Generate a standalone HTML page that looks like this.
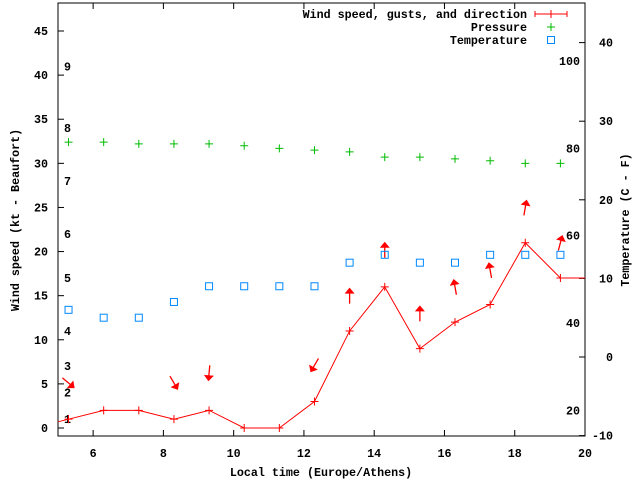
<!DOCTYPE html>
<html><head><meta charset="utf-8"><style>
html,body{margin:0;padding:0;background:#fff}
svg{display:block}
text{font-family:"Liberation Mono",monospace;font-weight:bold;font-size:11.7px;fill:#000}
</style></head><body>
<svg id="chart" width="640" height="480" viewBox="0 0 640 480" xmlns="http://www.w3.org/2000/svg"></svg>
<script>
const hours = [5.3,6.3,7.3,8.3,9.3,10.3,11.3,12.3,13.3,14.3,15.3,16.3,17.3,18.3,19.3];
const windSpeed = [1,2,2,1,2,0,0,3,11,16,9,12,14,21,17];
const gustArrowHours = [5.3,8.3,9.3,12.3,13.3,14.3,15.3,16.3,17.3,18.3,19.3];
const gustSpeed = [5.1,5.1,6.2,7.1,15,20.2,13,16,17.9,25,21];
const gustBearing = [130,150,185,210,0,0,0,350,350,10,15];
const pressure = [32.4,32.4,32.2,32.2,32.2,32.0,31.7,31.5,31.3,30.7,30.7,30.5,30.3,30.0,30.0];
const temperatureC = [6,5,5,7,9,9,9,9,12,13,12,12,13,13,13];
const xTicks = [6,8,10,12,14,16,18,20];
const yTicks = [0,5,10,15,20,25,30,35,40,45];
const y2Ticks = [-10,0,10,20,30,40];
const beaufortLabels = ["1","2","3","4","5","6","7","8","9"];
const beaufortValues = [1,4,7,11,17,22,28,34,41];
const fahrenheitLabels = [20,40,60,80,100];

const L=58,R=585,T=3,B=436;
const X=h=>L+(h-5)*(R-L)/15;
const Y=v=>428-v*8.822;
const Y2=c=>357-c*7.86;
const YF=f=>Y2((f-32)*5/9);
const svg=document.getElementById('chart');
const NS='http://www.w3.org/2000/svg';
function mk(tag,attrs,parent){const e=document.createElementNS(NS,tag);for(const k in attrs)e.setAttribute(k,attrs[k]);(parent||svg).appendChild(e);return e;}
function txt(s,x,y,anchor,parent){const t=mk('text',{x:x,y:y,'text-anchor':anchor||'start'},parent);t.textContent=s;return t;}

const frame=mk('rect',{x:L,y:T,width:R-L,height:B-T,fill:'none',stroke:'#000','stroke-width':1});



xTicks.forEach(h=>{
  const x=X(h);
  const tk=mk('path',{d:`M${x},${B}v-6M${x},${T}v6`,stroke:'#000'});
  
  
  const lb=txt(String(h),x,457,'middle');
  
  
});
yTicks.forEach(v=>{
  const y=Y(v);
  const tk=mk('path',{d:`M${L},${y}h6`,stroke:'#000'});
  
  
  const lb=txt(String(v),48,y+4,'end');
  
  
});
y2Ticks.forEach(c=>{
  const y=Y2(c);
  const tk=mk('path',{d:`M${R},${y}h-6`,stroke:'#000'});
  
  
  const lb=txt(String(c),613,y+4,'end');
  
  
});
beaufortLabels.forEach((s,i)=>{
  const lb=txt(s,64,Y(beaufortValues[i])+4,'start');
  
  
});
fahrenheitLabels.forEach(f=>{
  const lb=txt(String(f),580,YF(f)+5,'end');
  
  
});

let pts=[[L,Y(windSpeed[0]+(windSpeed[0]-windSpeed[1])*0.3)]];
hours.forEach((h,i)=>pts.push([X(h),Y(windSpeed[i])]));
pts.push([R,Y(windSpeed[windSpeed.length-1])]);
const wl=mk('polyline',{points:pts.map(p=>p.join(',')).join(' '),fill:'none',stroke:'#f00','stroke-width':1});


hours.forEach((h,i)=>{
  const x=X(h),y=Y(windSpeed[i]);
  const m=mk('path',{d:`M${x-4},${y}h8M${x},${y-4}v8`,stroke:'#f00'});
  
  
});
gustArrowHours.forEach((h,i)=>{
  const g=mk('g',{transform:`translate(${X(h)},${Y(gustSpeed[i])}) rotate(${gustBearing[i]})`});
  
  
  mk('line',{x1:0,y1:8,x2:0,y2:-3,stroke:'#f00','stroke-width':1.3},g);
  mk('path',{d:'M-5,-2L0,-8L5,-2Z',fill:'#f00'},g);
});
hours.forEach((h,i)=>{
  const x=X(h),y=Y(pressure[i]);
  const m=mk('path',{d:`M${x-4},${y}h8M${x},${y-4}v8`,stroke:'#0b0'});
  
  
});
hours.forEach((h,i)=>{
  const x=X(h),y=Y2(temperatureC[i]);
  const m=mk('rect',{x:x-3.5,y:y-3.5,width:7,height:7,fill:'none',stroke:'#08f','stroke-width':1});
  
  
});

const lg=mk('g',{});


const e1=txt('Wind speed, gusts, and direction',527,18,'end',lg);


mk('path',{d:'M535,14h32M535,11v6M567,11v6M551,10v8',stroke:'#f00'},lg);
const e2=txt('Pressure',527,31,'end',lg);


mk('path',{d:'M547,27h8M551,23v8',stroke:'#0b0'},lg);
const e3=txt('Temperature',527,44,'end',lg);


mk('rect',{x:547.5,y:36.5,width:7,height:7,fill:'none',stroke:'#08f'},lg);

const xt=txt('Local time (Europe/Athens)',321,476,'middle');


const yt=txt('Wind speed (kt - Beaufort)',0,0,'middle');
yt.setAttribute('transform','translate(19,220) rotate(-90)');


const y2t=txt('Temperature (C - F)',0,0,'middle');
y2t.setAttribute('transform','translate(629,220) rotate(-90)');


</script>
</body></html>
